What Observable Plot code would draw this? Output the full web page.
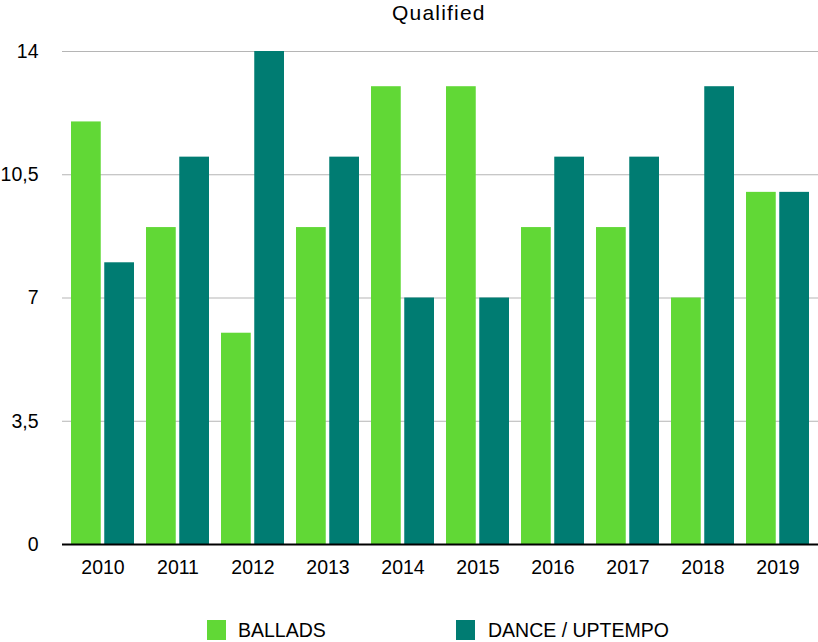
<!DOCTYPE html>
<html><head><meta charset="utf-8">
<script src="https://cdn.jsdelivr.net/npm/d3@7"></script>
<script src="https://cdn.jsdelivr.net/npm/@observablehq/plot@0.6"></script>
<style>
body{margin:0;background:#fff;font-family:"Liberation Sans",Arial,Helvetica,sans-serif;color:#000;}
#wrap{position:relative;width:818px;height:642px;overflow:hidden;}
#title{position:absolute;left:392px;top:0;height:26px;line-height:26px;white-space:nowrap;font-size:21px;letter-spacing:1.2px;}
#chart{position:absolute;left:0;top:30px;}
.sw{position:absolute;top:620px;width:19px;height:20px;}
.lt{position:absolute;top:620px;height:20px;line-height:20px;font-size:19.5px;white-space:nowrap;}
</style></head><body>
<div id="wrap">
<div id="title">Qualified</div>
<div id="chart"></div>
<div id="legend"></div>
</div>
<script>
const years = ["2010","2011","2012","2013","2014","2015","2016","2017","2018","2019"];
const ballads = [12, 9, 6, 9, 13, 13, 9, 9, 7, 10];
const dance = [8, 11, 14, 11, 7, 7, 11, 11, 13, 10];
const series = ["BALLADS", "DANCE / UPTEMPO"];
const colors = ["#61d836", "#007c72"];
const yTicks = [0, 3.5, 7, 10.5, 14];

const W = 818, H = 554, ML = 62, MR = 0;
const padIn = 0.16, padOut = 0.08, gap = 3;
const step = (W - ML - MR) / (years.length - padIn + 2 * padOut);
const bw = step * (1 - padIn);
const inset = (bw + gap) / 2;

const dB = years.map((y, i) => ({year: y, series: series[0], value: ballads[i]}));
const dD = years.map((y, i) => ({year: y, series: series[1], value: dance[i]}));

const chart = Plot.plot({
  width: W, height: H, marginLeft: ML, marginRight: MR, marginTop: 21, marginBottom: 40,
  style: {fontFamily: '"Liberation Sans", Arial, Helvetica, sans-serif', fontSize: "19.5px", color: "#000", background: "#fff", overflow: "visible"},
  x: {domain: years, paddingInner: padIn, paddingOuter: padOut, label: null, tickSize: 0, tickPadding: 16},
  y: {domain: [0, 14], ticks: yTicks, tickFormat: d => String(d).replace(".", ","), label: null, tickSize: 0, tickPadding: 24},
  color: {domain: series, range: colors},
  marks: [
    Plot.gridY(yTicks, {stroke: "#b5b5b5", strokeOpacity: 1, strokeWidth: 1}),
    Plot.barY(dB, {x: "year", y: "value", fill: "series", insetRight: inset}),
    Plot.barY(dD, {x: "year", y: "value", fill: "series", insetLeft: inset}),
    Plot.ruleY([0], {stroke: "#000", strokeWidth: 2})
  ]
});
document.getElementById("chart").appendChild(chart);

const lg = document.getElementById("legend");
const legPos = [[207, 238], [456, 488]];
series.forEach((s, i) => {
  const sw = document.createElement("div");
  sw.className = "sw"; sw.style.left = legPos[i][0] + "px"; sw.style.background = colors[i];
  const t = document.createElement("div");
  t.className = "lt"; t.style.left = legPos[i][1] + "px"; t.textContent = s;
  lg.appendChild(sw); lg.appendChild(t);
});
</script>
</body></html>
